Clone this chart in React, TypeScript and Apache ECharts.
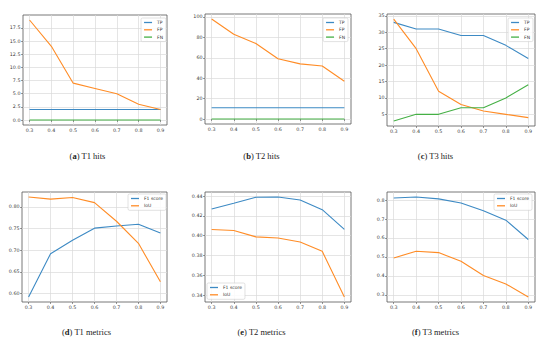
import React, { useEffect, useRef } from "react";
import * as echarts from "echarts";

const thresholds = [0.3, 0.4, 0.5, 0.6, 0.7, 0.8, 0.9];

const t1TP = [2, 2, 2, 2, 2, 2, 2];
const t1FP = [19, 14, 7, 6, 5, 3, 2];
const t1FN = [0, 0, 0, 0, 0, 0, 0];

const t2TP = [11, 11, 11, 11, 11, 11, 11];
const t2FP = [98, 83, 74, 59, 54, 52, 37];
const t2FN = [0, 0, 0, 0, 0, 0, 0];

const t3TP = [33, 31, 31, 29, 29, 26, 22];
const t3FP = [34, 25, 12, 8, 6, 5, 4];
const t3FN = [3, 5, 5, 7, 7, 10, 14];

const t1F1 = [0.592, 0.692, 0.723, 0.751, 0.756, 0.760, 0.740];
const t1IoU = [0.823, 0.818, 0.822, 0.810, 0.767, 0.716, 0.627];

const t2F1 = [0.4268, 0.4326, 0.4387, 0.439, 0.436, 0.4262, 0.4063];
const t2IoU = [0.4061, 0.4051, 0.3987, 0.3976, 0.3936, 0.3841, 0.338];

const t3F1 = [0.811, 0.816, 0.806, 0.784, 0.744, 0.694, 0.592];
const t3IoU = [0.495, 0.530, 0.523, 0.477, 0.402, 0.358, 0.289];

const xTicks = [0.3, 0.4, 0.5, 0.6, 0.7, 0.8, 0.9];
const yTicksA = [0, 2.5, 5, 7.5, 10, 12.5, 15, 17.5];
const yTicksB = [0, 20, 40, 60, 80, 100];
const yTicksC = [5, 10, 15, 20, 25, 30, 35];
const yTicksD = [0.6, 0.65, 0.7, 0.75, 0.8];
const yTicksE = [0.34, 0.36, 0.38, 0.4, 0.42, 0.44];
const yTicksF = [0.3, 0.4, 0.5, 0.6, 0.7, 0.8];

const captions = [
  "({b|a}) T1 hits",
  "({b|b}) T2 hits",
  "({b|c}) T3 hits",
  "({b|d}) T1 metrics",
  "({b|e}) T2 metrics",
  "({b|f}) T3 metrics",
];

const BLUE = "#3d8ac4";
const ORANGE = "#ff8c26";
const GREEN = "#45b045";

function pad(vals: number[]): [number, number] {
  const lo = Math.min(...vals);
  const hi = Math.max(...vals);
  const p = (hi - lo) * 0.05;
  return [lo - p, hi + p];
}

export default function App() {
  const ref = useRef<HTMLDivElement>(null);
  useEffect(() => {
    if (!ref.current) return;
    const chart = echarts.init(ref.current, undefined, { renderer: "svg" });

    const grids = [
      { left: 23, top: 15, width: 144, height: 110 },
      { left: 205, top: 14, width: 146, height: 110 },
      { left: 387, top: 14, width: 148, height: 112 },
      { left: 22, top: 192, width: 145, height: 110 },
      { left: 205, top: 192, width: 146, height: 110 },
      { left: 387, top: 192, width: 148, height: 110 },
    ].map((g) => ({
      ...g,
      show: true,
      borderColor: "#555",
      borderWidth: 0.8,
      backgroundColor: "transparent",
    }));

    const xPad = (0.9 - 0.3) * 0.05;
    const labelStyle = { fontSize: 4.8, color: "#3a3a3a", fontFamily: "DejaVu Sans", margin: 2.5 };
    const tickStyle = { show: true, length: 2, lineStyle: { color: "#555", width: 0.6 } };
    const splitStyle = { show: true, lineStyle: { color: "#dadada", width: 0.7 } };

    const xAxes = grids.map((_, i) => ({
      type: "value",
      gridIndex: i,
      min: 0.3 - xPad,
      max: 0.9 + xPad,
      interval: 0.1,
      axisLine: { show: false },
      axisTick: { ...tickStyle, customValues: xTicks },
      splitLine: splitStyle,
      axisLabel: {
        ...labelStyle,
        customValues: xTicks,
        formatter: (v: number) => v.toFixed(1),
      },
    }));

    const yDefs = [
      { data: [...t1TP, ...t1FP, ...t1FN], ticks: yTicksA, interval: 2.5, dec: 1 },
      { data: [...t2TP, ...t2FP, ...t2FN], ticks: yTicksB, interval: 20, dec: 0 },
      { data: [...t3TP, ...t3FP, ...t3FN], ticks: yTicksC, interval: 5, dec: 0 },
      { data: [...t1F1, ...t1IoU], ticks: yTicksD, interval: 0.05, dec: 2 },
      { data: [...t2F1, ...t2IoU], ticks: yTicksE, interval: 0.02, dec: 2 },
      { data: [...t3F1, ...t3IoU], ticks: yTicksF, interval: 0.1, dec: 1 },
    ];

    const yAxes = yDefs.map((d, i) => {
      const [mn, mx] = pad(d.data);
      return {
        type: "value",
        gridIndex: i,
        min: mn,
        max: mx,
        interval: d.interval,
        axisLine: { show: false },
        axisTick: { ...tickStyle, customValues: d.ticks },
        splitLine: splitStyle,
        axisLabel: {
          ...labelStyle,
          customValues: d.ticks,
          formatter: (v: number) => v.toFixed(d.dec),
        },
      };
    });

    const mk = (name: string, arr: number[], idx: number, color: string) => ({
      type: "line",
      name,
      xAxisIndex: idx,
      yAxisIndex: idx,
      data: thresholds.map((x, i) => [x, arr[i]]),
      showSymbol: false,
      symbol: "none",
      lineStyle: { color, width: 1.1 },
      itemStyle: { color },
      color,
      z: 3,
    });

    const series = [
      mk("TP", t1TP, 0, BLUE),
      mk("FP", t1FP, 0, ORANGE),
      mk("FN", t1FN, 0, GREEN),
      mk("TP", t2TP, 1, BLUE),
      mk("FP", t2FP, 1, ORANGE),
      mk("FN", t2FN, 1, GREEN),
      mk("TP", t3TP, 2, BLUE),
      mk("FP", t3FP, 2, ORANGE),
      mk("FN", t3FN, 2, GREEN),
      mk("F1 score", t1F1, 3, BLUE),
      mk("IoU", t1IoU, 3, ORANGE),
      mk("F1 score", t2F1, 4, BLUE),
      mk("IoU", t2IoU, 4, ORANGE),
      mk("F1 score", t3F1, 5, BLUE),
      mk("IoU", t3IoU, 5, ORANGE),
    ];

    const legendBase = {
      orient: "vertical",
      icon: "rect",
      itemWidth: 8,
      itemHeight: 1.3,
      itemGap: 2.3,
      align: "left",
      backgroundColor: "rgba(255,255,255,0.85)",
      borderColor: "#cccccc",
      borderWidth: 0.6,
      borderRadius: 1.5,
      padding: [2, 3, 2, 3],
      selectedMode: false,
      textStyle: { fontSize: 4.5, color: "#333", fontFamily: "DejaVu Sans", lineHeight: 5 },
    };
    const hits = ["TP", "FP", "FN"];
    const mets = ["F1 score", "IoU"];
    const legends = [
      { ...legendBase, data: hits, right: 384, top: 18 },
      { ...legendBase, data: hits, right: 202, top: 18 },
      { ...legendBase, data: hits, right: 17, top: 18 },
      { ...legendBase, data: mets, right: 384, top: 194 },
      { ...legendBase, data: mets, left: 207, top: 283 },
      { ...legendBase, data: mets, right: 18, top: 194 },
    ];

    const capPos = [
      [87.5, 156],
      [261.5, 156],
      [435.5, 156],
      [86.5, 332],
      [261.5, 332],
      [435.5, 332],
    ];
    const graphic = captions.map((c, i) => ({
      type: "text",
      x: capPos[i][0],
      y: capPos[i][1],
      style: {
        text: c,
        align: "center",
        verticalAlign: "middle",
        fontFamily: "Liberation Serif",
        fontSize: 8.5,
        fontWeight: "normal",
        fill: "#222",
        rich: {
          b: { fontWeight: "bold", fontFamily: "Liberation Serif", fontSize: 8.5, fill: "#222" },
        },
      },
    }));

    chart.setOption({
      animation: false,
      backgroundColor: "#ffffff",
      grid: grids,
      xAxis: xAxes,
      yAxis: yAxes,
      series,
      legend: legends,
      graphic,
    });
    return () => chart.dispose();
  }, []);

  return (
    <div
      ref={ref}
      style={{ position: "absolute", left: 0, top: 0, width: 550, height: 345 }}
    />
  );
}
